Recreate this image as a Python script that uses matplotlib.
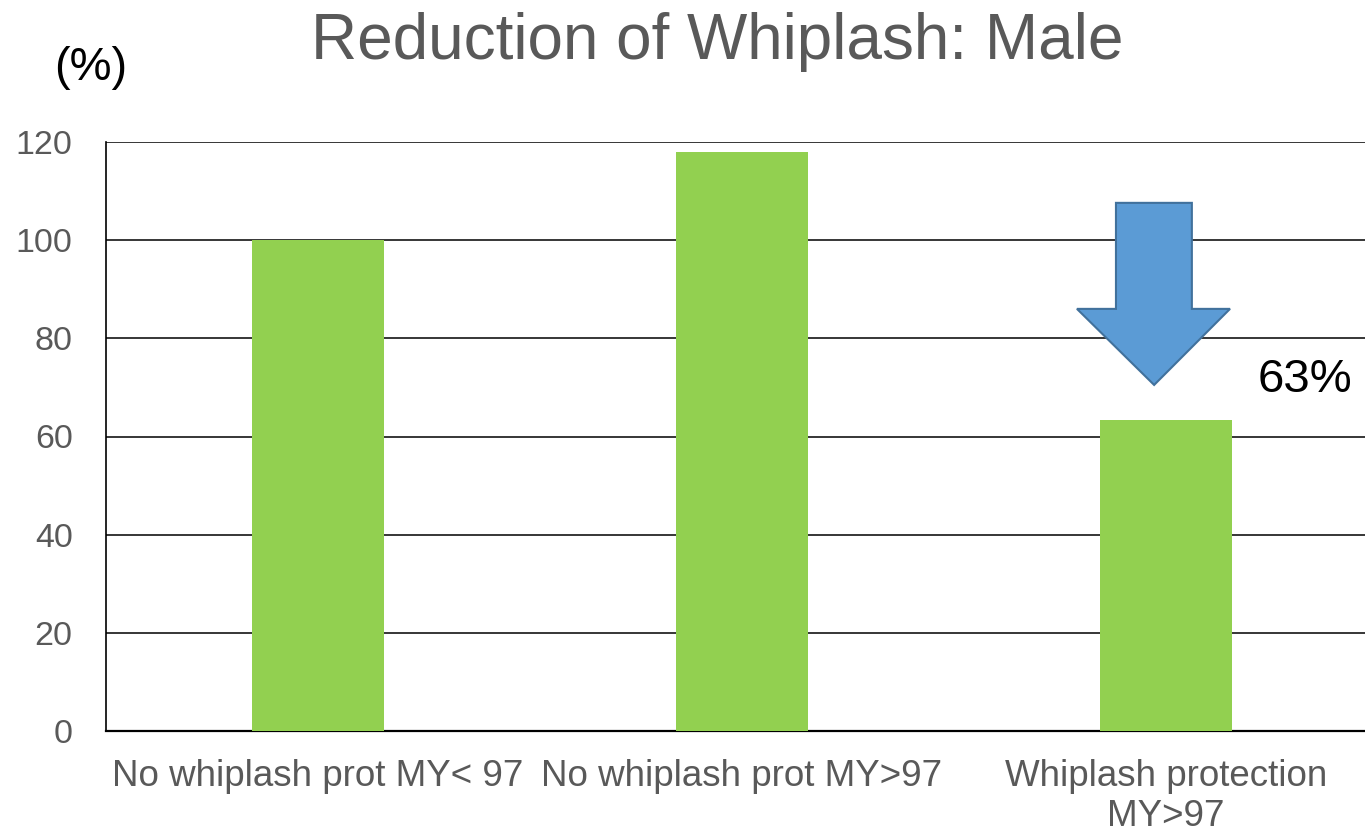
import matplotlib
matplotlib.use("Agg")
import matplotlib.pyplot as plt
from matplotlib.patches import Polygon

plt.rcParams['font.family'] = ['Liberation Sans', 'DejaVu Sans']

categories = ["No whiplash prot MY< 97", "No whiplash prot MY>97", "Whiplash protection\nMY>97"]
values = [100, 118, 63.4]
yticks = [0, 20, 40, 60, 80, 100, 120]
reduction_label = "63%"

fig = plt.figure(figsize=(13.65, 8.33), dpi=100)
ax = fig.add_axes([106/1365, 1-731/833, 1272/1365, 589/833])

x = list(range(len(categories)))
ax.bar(x, values, width=0.31, color="#92D050", zorder=3)
ax.set_xlim(-0.5, 2.5)
ax.set_ylim(0, 120)
ax.set_yticks(yticks)
ax.set_xticks(x)
ax.set_xticklabels(categories, fontsize=26.5, color="#595959", linespacing=1.2)
ax.tick_params(axis='y', length=0, pad=24, labelsize=24.5, labelcolor="#595959")
ax.tick_params(axis='x', length=0, pad=20)
ax.yaxis.grid(True, color="black", linewidth=1.1, zorder=1)
ax.set_axisbelow(True)
for s in ["top", "right"]:
    ax.spines[s].set_visible(False)
ax.spines["left"].set_color("black")
ax.spines["left"].set_linewidth(1.2)
ax.spines["bottom"].set_color("black")
ax.spines["bottom"].set_linewidth(1.6)

# Block arrow pointing down to the third bar
arrow = Polygon([(1.882, 107.6), (2.061, 107.6), (2.061, 86.0), (2.151, 86.0),
                 (1.972, 70.5), (1.790, 86.0), (1.882, 86.0)], closed=True,
                facecolor="#5B9BD5", edgecolor="#41719C", linewidth=1.5, zorder=4)
ax.add_patch(arrow)
ax.text(2.217, 71.5, reduction_label, fontsize=34, color="black", ha="left", va="center", zorder=5)

fig.text(717/1365, 1-42/833, "Reduction of Whiplash: Male", fontsize=46, color="#595959",
         ha="center", va="center")
fig.text(91/1365, 1-68/833, "(%)", fontsize=34, color="black", ha="center", va="center")

fig.savefig("out.png", dpi=100)
